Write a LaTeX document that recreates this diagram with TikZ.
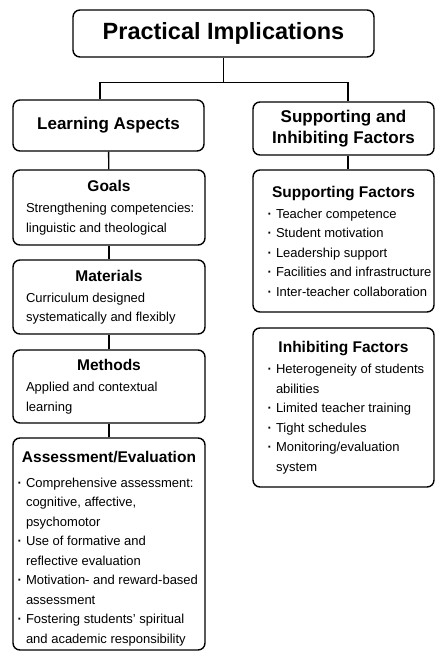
\documentclass[tikz,border=0pt]{standalone}
\usepackage{fontspec}
\setmainfont{Liberation Sans}
\usepackage{tikz}
\tikzset{
  card/.style={draw, line width=1.4pt, rounded corners=7pt, align=center, inner sep=0pt},
  leftcard/.style={card, minimum width=192pt, font=\bodyfont},
  rightcard/.style={card, minimum width=181pt, font=\bodyfont},
  link/.style={line width=1.4pt},
}
\newcommand{\bodyfont}{\fontsize{13}{19.5}\selectfont}
\newcommand{\headfont}{\fontsize{15.5}{19}\selectfont\bfseries}
% #1 width, #2 indent, #3 heading, #4 gap below heading, #5 text
\newcommand{\cardtext}[5]{\begin{minipage}{#1}\raggedright
  \hyphenpenalty=10000 \exhyphenpenalty=10000
  {\centering\headfont #3\par}\vspace{#4}\leftskip=#2 #5\end{minipage}}
\newcommand{\itm}{\par\leavevmode\llap{{\bfseries ·}\hspace{4pt}}}

\begin{document}
\begin{tikzpicture}[x=1pt, y=-1pt]
        \useasboundingbox (0,0) rectangle (435,652);
        % Top of the tree
        \node[card, minimum width=301pt, minimum height=47pt,
              font=\fontsize{23.5}{28}\selectfont\bfseries] (top) at (223.5,33.5) {Practical Implications};
        \node[card, minimum width=191pt, minimum height=51pt,
              font=\fontsize{17}{21}\selectfont\bfseries] (learn) at (108.5,125.5) {Learning Aspects};
        \node[card, minimum width=181pt, minimum height=53pt,
              font=\fontsize{17}{21}\selectfont\bfseries] (factors) at (343.5,128.5) {Supporting and\\Inhibiting Factors};

        % Left column
        \node[leftcard, minimum height=75pt] (goals) at (109,207.5)
            {\cardtext{188pt}{11pt}{Goals}{1.5pt}{Strengthening competencies:\\linguistic and theological}};
        \node[leftcard, minimum height=74pt] (materials) at (109,297)
            {\cardtext{188pt}{11pt}{Materials}{1.5pt}{Curriculum designed\\systematically and flexibly}};
        \node[leftcard, minimum height=73pt] (methods) at (109,386.5)
            {\cardtext{188pt}{11pt}{Methods}{1.5pt}{Applied and contextual\\learning}};
        \node[leftcard, minimum height=212pt] (assess) at (109,544)
            {\cardtext{188pt}{11pt}{\vspace*{9pt}Assessment/Evaluation}{5pt}{%
             \itm Comprehensive assessment:\\cognitive, affective,\\psychomotor
             \itm Use of formative and\\reflective evaluation
             \itm Motivation- and reward-based\\assessment
             \itm Fostering students’ spiritual\\and academic responsibility}};

        % Right column
        \node[rightcard, minimum height=142pt] (supp) at (343.5,241)
            {\cardtext{179pt}{22pt}{Supporting Factors}{1.5pt}{%
             \itm Teacher competence
             \itm Student motivation
             \itm Leadership support
             \itm Facilities and infrastructure
             \itm Inter-teacher collaboration}};
        \node[rightcard, minimum height=159pt] (inhib) at (343.5,407.5)
            {\cardtext{179pt}{22pt}{Inhibiting Factors}{1.5pt}{%
             \itm Heterogeneity of students\\abilities
             \itm Limited teacher training
             \itm Tight schedules
             \itm Monitoring/evaluation\\system}};

        % Connectors
        \draw[link] (top.south) -- ++(0,25) coordinate (bus);
        \draw[link] ([xshift=-8.5pt]learn.north) |- (bus) -| ([xshift=4.5pt]factors.north);
        \draw[link] (learn) -- (goals);
        \draw[link] (goals) -- (materials);
        \draw[link] (materials) -- (methods);
        \draw[link] (methods) -- (assess);
        \draw[link] ([xshift=4.5pt]factors.south) -- ([xshift=4.5pt]supp.north);
    \end{tikzpicture}
\end{document}
